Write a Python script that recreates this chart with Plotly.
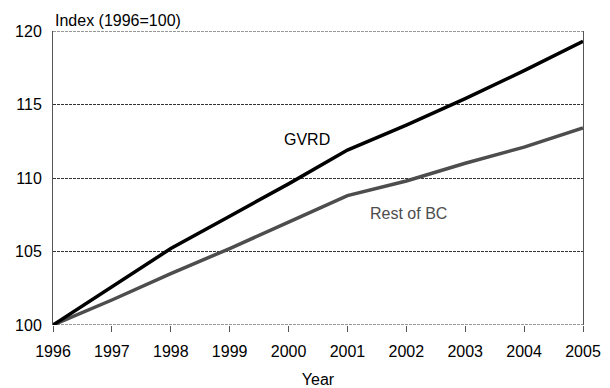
import plotly.graph_objects as go

years = [1996, 1997, 1998, 1999, 2000, 2001, 2002, 2003, 2004, 2005]
gvrd = [100.0, 102.6, 105.2, 107.4, 109.6, 111.9, 113.6, 115.4, 117.3, 119.3]
rest_bc = [100.0, 101.7, 103.5, 105.2, 107.0, 108.8, 109.8, 111.0, 112.1, 113.4]
y_ticks = [100, 105, 110, 115, 120]

FONT = "Liberation Sans, Arial, sans-serif"

fig = go.Figure()
fig.add_trace(go.Scatter(x=years, y=rest_bc, mode="lines", name="Rest of BC",
                         line=dict(color="#4d4d4d", width=3.5)))
fig.add_trace(go.Scatter(x=years, y=gvrd, mode="lines", name="GVRD",
                         line=dict(color="#000000", width=3.5)))

# dashed frame lines at the range edges (plotly omits edge gridlines)
for edge in (y_ticks[0], y_ticks[-1]):
    fig.add_shape(type="line", xref="paper", yref="y", x0=0, x1=1, y0=edge, y1=edge,
                  line=dict(color="#333", width=1, dash="3px,1px"), layer="below")

fig.update_layout(
    width=602, height=380,
    margin=dict(l=45, r=27, t=23, b=63, autoexpand=False),
    paper_bgcolor="white", plot_bgcolor="white",
    showlegend=False,
    font=dict(family=FONT, size=16, color="#000"),
    xaxis=dict(range=[1996, 2005], tickvals=years, ticktext=[str(y) for y in years],
               showgrid=False, zeroline=False, showline=False, automargin=False,
               ticks="outside", ticklen=6, tickcolor="#555", tickwidth=1,
               ticklabelstandoff=6,
               title=dict(text="Year", standoff=14, font=dict(size=16))),
    yaxis=dict(range=[100, 120], tickvals=y_ticks, showgrid=True,
               gridcolor="#333", griddash="3px,1px", gridwidth=1, automargin=False,
               zeroline=False, showline=True, linecolor="#555", linewidth=1,
               mirror=True, ticks="", ticklabelstandoff=7),
    annotations=[
        dict(text="Index (1996=100)", xref="paper", yref="paper", x=0, y=1,
             xanchor="left", yanchor="bottom", showarrow=False, yshift=0,
             font=dict(size=16)),
        dict(text="GVRD", xref="x", yref="y", x=2000.31, y=112.6, showarrow=False,
             font=dict(size=16)),
        dict(text="Rest of BC", xref="x", yref="y", x=2002.04, y=107.6, showarrow=False,
             font=dict(size=16, color="#4d4d4d")),
    ],
)

fig.write_html("out.html")
